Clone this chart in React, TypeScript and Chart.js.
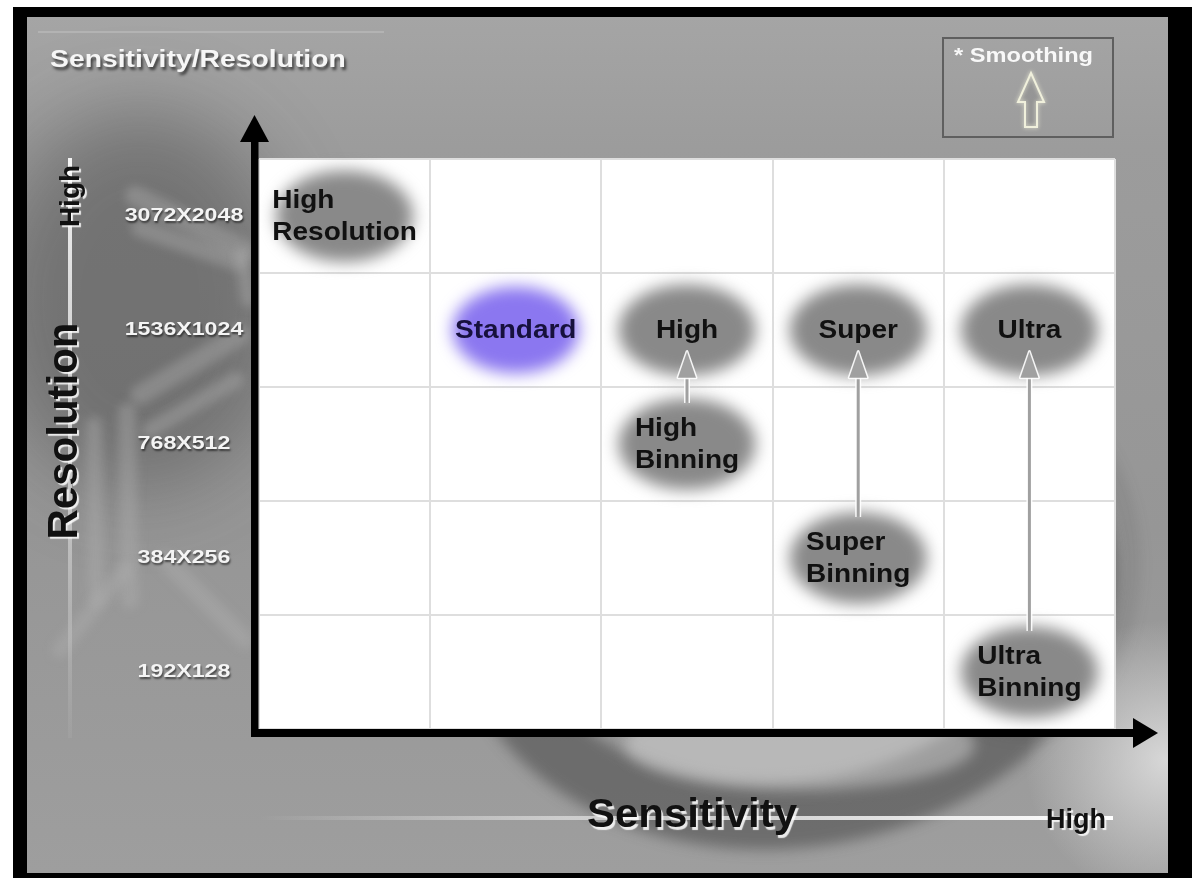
import React, { useEffect, useRef } from 'react';
import { Chart, registerables } from 'chart.js';

Chart.register(...registerables);

// ---------- data ----------
const sensitivityLevels = ['S1', 'S2', 'S3', 'S4', 'S5'];
const resolutionLevels = ['3072X2048', '1536X1024', '768X512', '384X256', '192X128'];

const modeNames = [
  'High Resolution',
  'Standard',
  'High',
  'Super',
  'Ultra',
  'High Binning',
  'Super Binning',
  'Ultra Binning',
];
const modeSensitivity = ['S1', 'S2', 'S3', 'S4', 'S5', 'S3', 'S4', 'S5'];
const modeResolution = [
  '3072X2048',
  '1536X1024',
  '1536X1024',
  '1536X1024',
  '1536X1024',
  '768X512',
  '384X256',
  '192X128',
];
const smoothingFrom = ['High Binning', 'Super Binning', 'Ultra Binning'];
const smoothingTo = ['High', 'Super', 'Ultra'];
const highlightedMode = 'Standard';

const chartTitle = 'Sensitivity/Resolution';
const xAxisTitle = 'Sensitivity';
const yAxisTitle = 'Resolution';
const axisHighLabel = 'High';
const legendLabel = '* Smoothing';

// ---------- drawing helpers ----------
const W = 1192;
const H = 878;
const FONT = '"Liberation Sans", Arial, Helvetica, sans-serif';

type Shadow = { color: string; dx: number; dy: number; blur: number };

function drawText(
  ctx: CanvasRenderingContext2D,
  text: string,
  x: number,
  y: number,
  size: number,
  color: string,
  opts: { stretch?: number; align?: CanvasTextAlign; shadow?: Shadow; rotate?: number } = {}
) {
  const { stretch = 1, align = 'center', shadow, rotate = 0 } = opts;
  ctx.save();
  ctx.font = `bold ${size}px ${FONT}`;
  ctx.textBaseline = 'middle';
  ctx.textAlign = align;
  ctx.translate(x, y);
  if (rotate) ctx.rotate(rotate);
  ctx.scale(stretch, 1);
  if (shadow) {
    ctx.shadowColor = shadow.color;
    ctx.shadowOffsetX = shadow.dx;
    ctx.shadowOffsetY = shadow.dy;
    ctx.shadowBlur = shadow.blur;
  }
  ctx.fillStyle = color;
  ctx.fillText(text, 0, 0);
  ctx.restore();
}

function textWidth(ctx: CanvasRenderingContext2D, text: string, size: number, stretch: number) {
  ctx.save();
  ctx.font = `bold ${size}px ${FONT}`;
  const w = ctx.measureText(text).width * stretch;
  ctx.restore();
  return w;
}

// ---------- plugins ----------
const backgroundPlugin = {
  id: 'panelBackground',
  beforeDraw(chart: any) {
    const { ctx, width, height, chartArea: a } = chart;
    ctx.save();
    ctx.fillStyle = '#ffffff';
    ctx.fillRect(0, 0, width, height);
    ctx.fillStyle = '#000000';
    ctx.fillRect(13, 7, width - 13, height - 7);

    const px = 27, py = 17, pw = 1168 - 27, ph = 873 - 17;
    ctx.beginPath();
    ctx.rect(px, py, pw, ph);
    ctx.clip();
    const g = ctx.createLinearGradient(0, py, 0, py + ph);
    g.addColorStop(0, '#a5a5a5');
    g.addColorStop(0.15, '#9c9c9c');
    g.addColorStop(0.6, '#969696');
    g.addColorStop(1, '#9e9e9e');
    ctx.fillStyle = g;
    ctx.fillRect(px, py, pw, ph);

    // darker upper-left region
    ctx.filter = 'blur(40px)';
    ctx.fillStyle = 'rgba(45,45,45,0.36)';
    ctx.beginPath();
    ctx.ellipse(140, 300, 150, 190, 0, 0, Math.PI * 2);
    ctx.fill();

    // tubes on the left
    ctx.filter = 'blur(5px)';
    ctx.lineCap = 'round';
    ctx.strokeStyle = 'rgba(175,175,175,0.4)';
    const tubes: number[][] = [
      [135, 196, 245, 250, 20],
      [140, 228, 238, 262, 18],
      [242, 255, 248, 300, 14],
      [140, 395, 240, 335, 20],
      [150, 430, 236, 380, 16],
      [94, 425, 96, 600, 16],
      [127, 412, 130, 600, 18],
      [60, 650, 125, 570, 16],
      [165, 560, 245, 640, 18],
    ];
    tubes.forEach(([x1, y1, x2, y2, w]) => {
      ctx.lineWidth = w;
      ctx.beginPath();
      ctx.moveTo(x1, y1);
      ctx.lineTo(x2, y2);
      ctx.stroke();
    });

    // wheel ring at the bottom
    ctx.filter = 'blur(7px)';
    ctx.strokeStyle = 'rgba(50,50,50,0.45)';
    ctx.lineWidth = 66;
    ctx.beginPath();
    ctx.ellipse(785, 590, 300, 225, -0.12, 0, Math.PI * 2);
    ctx.stroke();
    ctx.fillStyle = 'rgba(220,220,220,0.45)';
    ctx.beginPath();
    ctx.ellipse(800, 745, 175, 45, 0, 0, Math.PI * 2);
    ctx.fill();
    ctx.strokeStyle = 'rgba(60,60,60,0.14)';
    ctx.lineWidth = 14;
    ctx.beginPath();
    ctx.ellipse(1020, 565, 112, 165, 0, 0, Math.PI * 2);
    ctx.stroke();

    // light corner bottom right
    ctx.filter = 'none';
    const rg = ctx.createRadialGradient(1165, 760, 0, 1165, 760, 140);
    rg.addColorStop(0, 'rgba(235,235,235,0.75)');
    rg.addColorStop(1, 'rgba(235,235,235,0)');
    ctx.fillStyle = rg;
    ctx.fillRect(1000, 600, 170, 280);
    ctx.restore();

    // title rule
    ctx.save();
    ctx.strokeStyle = '#b3b3b3';
    ctx.lineWidth = 2;
    ctx.beginPath();
    ctx.moveTo(38, 32);
    ctx.lineTo(384, 32);
    ctx.stroke();
    ctx.restore();

    // white plot area
    ctx.save();
    ctx.fillStyle = '#ffffff';
    ctx.fillRect(a.left, a.top, a.right - a.left, a.bottom - a.top);
    ctx.restore();
  },
};

const overlayPlugin = {
  id: 'overlay',
  afterDraw(chart: any) {
    const { ctx, chartArea: a } = chart;
    const xs = chart.scales.x;
    const ys = chart.scales.y;
    const meta = chart.getDatasetMeta(0);
    const colW = Math.abs(xs.getPixelForValue(1) - xs.getPixelForValue(0));
    const rowH = Math.abs(ys.getPixelForValue(1) - ys.getPixelForValue(0));

    // blurred bubbles
    meta.data.forEach((el: any, i: number) => {
      const hl = modeNames[i] === highlightedMode;
      ctx.save();
      ctx.filter = 'blur(8px)';
      ctx.fillStyle = hl ? '#8b77f0' : '#898989';
      ctx.beginPath();
      ctx.ellipse(el.x, el.y, colW * (hl ? 0.37 : 0.4), rowH * (hl ? 0.38 : 0.4), 0, 0, Math.PI * 2);
      ctx.fill();
      ctx.restore();
    });

    // smoothing arrows
    smoothingFrom.forEach((fromName, k) => {
      const from = meta.data[modeNames.indexOf(fromName)];
      const to = meta.data[modeNames.indexOf(smoothingTo[k])];
      const x = to.x;
      const tail = from.y - rowH * 0.36;
      const tip = to.y + rowH * 0.19;
      const headLen = 26;
      const headHalf = 9;
      ctx.save();
      ctx.lineCap = 'butt';
      ctx.strokeStyle = 'rgba(255,255,255,0.9)';
      ctx.lineWidth = 6;
      ctx.beginPath();
      ctx.moveTo(x, tail);
      ctx.lineTo(x, tip + headLen - 2);
      ctx.stroke();
      ctx.strokeStyle = '#a0a0a0';
      ctx.lineWidth = 3;
      ctx.beginPath();
      ctx.moveTo(x, tail);
      ctx.lineTo(x, tip + headLen - 2);
      ctx.stroke();
      ctx.beginPath();
      ctx.moveTo(x, tip);
      ctx.lineTo(x - headHalf, tip + headLen);
      ctx.lineTo(x + headHalf, tip + headLen);
      ctx.closePath();
      ctx.lineJoin = 'round';
      ctx.strokeStyle = 'rgba(255,255,255,0.9)';
      ctx.lineWidth = 3;
      ctx.stroke();
      ctx.fillStyle = '#a0a0a0';
      ctx.fill();
      ctx.restore();
    });

    // bubble labels
    const LBL = 25;
    const LST = 1.12;
    meta.data.forEach((el: any, i: number) => {
      const name = modeNames[i];
      const hl = name === highlightedMode;
      const color = hl ? '#17113d' : '#111111';
      const lines = name.split(' ');
      if (lines.length === 1) {
        drawText(ctx, name, el.x, el.y + 1, LBL, color, { stretch: LST });
      } else {
        const maxW = Math.max(...lines.map((l) => textWidth(ctx, l, LBL, LST)));
        const left = el.x - maxW / 2;
        drawText(ctx, lines[0], left, el.y - 15, LBL, color, { stretch: LST, align: 'left' });
        drawText(ctx, lines[1], left, el.y + 17, LBL, color, { stretch: LST, align: 'left' });
      }
    });

    // axes with arrow heads
    ctx.save();
    ctx.fillStyle = '#000000';
    const vx = a.left - 4.5;
    ctx.fillRect(a.left - 8, a.top - 20, 7.5, a.bottom - a.top + 28);
    ctx.beginPath();
    ctx.moveTo(vx, a.top - 44);
    ctx.lineTo(vx - 14.5, a.top - 17);
    ctx.lineTo(vx + 14.5, a.top - 17);
    ctx.closePath();
    ctx.fill();
    const hy = a.bottom + 4;
    ctx.fillRect(a.left - 8, a.bottom, a.right - a.left + 30, 8);
    ctx.beginPath();
    ctx.moveTo(a.right + 43, hy);
    ctx.lineTo(a.right + 18, hy - 15);
    ctx.lineTo(a.right + 18, hy + 15);
    ctx.closePath();
    ctx.fill();
    ctx.restore();

    // y tick labels (resolutions)
    ys.ticks.forEach((t: any, i: number) => {
      const label = ys.getLabelForValue(t.value);
      const py = ys.getPixelForTick(i);
      drawText(ctx, label, a.left - 75, py, 19, '#f4f4f4', {
        stretch: 1.22,
        shadow: { color: 'rgba(0,0,0,0.55)', dx: 1, dy: 2, blur: 2 },
      });
    });

    // title
    drawText(ctx, chartTitle, 50, 60, 24, '#f6f6f6', {
      stretch: 1.18,
      align: 'left',
      shadow: { color: 'rgba(0,0,0,0.6)', dx: 2, dy: 3, blur: 3 },
    });

    // y axis decoration
    ctx.save();
    const vg = ctx.createLinearGradient(0, a.top, 0, a.bottom + 10);
    vg.addColorStop(0, 'rgba(250,250,250,0.95)');
    vg.addColorStop(0.6, 'rgba(220,220,220,0.7)');
    vg.addColorStop(1, 'rgba(200,200,200,0.1)');
    ctx.fillStyle = vg;
    ctx.fillRect(68, a.top - 1, 4, a.bottom - a.top + 10);
    ctx.restore();
    drawText(ctx, axisHighLabel, 71, 196, 28, '#111111', {
      rotate: -Math.PI / 2,
      shadow: { color: 'rgba(255,255,255,0.85)', dx: 2, dy: 2, blur: 1 },
    });
    drawText(ctx, yAxisTitle, 65, 431, 42, '#111111', {
      rotate: -Math.PI / 2,
      shadow: { color: 'rgba(255,255,255,0.85)', dx: 2, dy: 2, blur: 1 },
    });

    // x axis decoration
    ctx.save();
    const hg = ctx.createLinearGradient(a.left, 0, a.right, 0);
    hg.addColorStop(0, 'rgba(230,230,230,0)');
    hg.addColorStop(0.35, 'rgba(225,225,225,0.7)');
    hg.addColorStop(1, 'rgba(255,255,255,1)');
    ctx.fillStyle = hg;
    ctx.fillRect(a.left, 816, a.right - a.left - 2, 4);
    ctx.restore();
    const cx = (a.left + a.right) / 2;
    drawText(ctx, xAxisTitle, cx + 5, 816, 40, '#111111', {
      stretch: 1.05,
      shadow: { color: 'rgba(255,255,255,0.85)', dx: 2, dy: 3, blur: 1 },
    });
    drawText(ctx, axisHighLabel, a.right - 39, 821, 27, '#111111', {
      shadow: { color: 'rgba(255,255,255,0.85)', dx: 2, dy: 2, blur: 1 },
    });

    // smoothing legend box
    const bx = a.right - 172, by = 38, bw = 170, bh = 99;
    ctx.save();
    ctx.strokeStyle = '#5f5f5f';
    ctx.lineWidth = 2;
    ctx.strokeRect(bx, by, bw, bh);
    ctx.restore();
    drawText(ctx, legendLabel, bx + 11, by + 18, 20, '#f8f8f8', { stretch: 1.18, align: 'left' });
    const ax = bx + 88;
    ctx.save();
    ctx.beginPath();
    ctx.moveTo(ax, by + 35);
    ctx.lineTo(ax - 13, by + 64);
    ctx.lineTo(ax - 6, by + 64);
    ctx.lineTo(ax - 6, by + 89);
    ctx.lineTo(ax + 6, by + 89);
    ctx.lineTo(ax + 6, by + 64);
    ctx.lineTo(ax + 13, by + 64);
    ctx.closePath();
    ctx.fillStyle = 'rgba(140,140,140,0.5)';
    ctx.fill();
    ctx.shadowColor = 'rgba(255,255,230,0.8)';
    ctx.shadowBlur = 4;
    ctx.strokeStyle = '#f0f0dc';
    ctx.lineWidth = 2;
    ctx.lineJoin = 'miter';
    ctx.stroke();
    ctx.restore();
  },
};

export default function App() {
  const ref = useRef<HTMLCanvasElement>(null);

  useEffect(() => {
    const canvas = ref.current;
    if (!canvas) return;
    const chart = new Chart(canvas, {
      type: 'scatter',
      data: {
        datasets: [
          {
            label: 'Modes',
            data: modeNames.map((_, i) => ({ x: modeSensitivity[i], y: modeResolution[i] })) as any,
            pointRadius: 0,
            pointHoverRadius: 0,
            showLine: false,
          },
        ],
      },
      options: {
        responsive: false,
        animation: false,
        events: [],
        devicePixelRatio: 1,
        layout: { padding: { left: 259, top: 159, right: W - 1115, bottom: H - 729 } },
        plugins: {
          legend: { display: false },
          tooltip: { enabled: false },
          title: { display: false },
        },
        scales: {
          x: {
            type: 'category',
            labels: sensitivityLevels,
            offset: true,
            grid: { offset: true, color: '#dedede', lineWidth: 2, drawTicks: false },
            border: { display: false },
            ticks: { display: false },
          },
          y: {
            type: 'category',
            labels: resolutionLevels,
            offset: true,
            grid: { offset: true, color: '#dedede', lineWidth: 2, drawTicks: false },
            border: { display: false },
            ticks: { display: false },
          },
        },
      } as any,
      plugins: [backgroundPlugin, overlayPlugin],
    });
    return () => chart.destroy();
  }, []);

  return (
    <div style={{ position: 'fixed', left: 0, top: 0, width: W, height: H }}>
      <canvas ref={ref} width={W} height={H} style={{ width: W, height: H, display: 'block' }} />
    </div>
  );
}
